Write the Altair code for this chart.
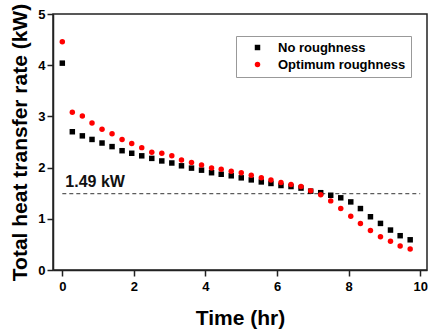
import altair as alt
import pandas as pd

time_hr = [0, 0.28, 0.56, 0.83, 1.11, 1.39, 1.67, 1.94, 2.22, 2.5, 2.78, 3.06,
           3.33, 3.61, 3.89, 4.17, 4.44, 4.72, 5.0, 5.28, 5.56, 5.83, 6.11, 6.39,
           6.67, 6.94, 7.22, 7.5, 7.78, 8.06, 8.33, 8.61, 8.89, 9.17, 9.44, 9.72]
no_rough = [4.04, 2.70, 2.62, 2.55, 2.48, 2.41, 2.33, 2.28, 2.23, 2.18, 2.13, 2.09,
            2.035, 1.99, 1.95, 1.90, 1.87, 1.84, 1.80, 1.76, 1.72, 1.69, 1.65, 1.63,
            1.60, 1.54, 1.51, 1.46, 1.41, 1.33, 1.20, 1.04, 0.91, 0.78, 0.67, 0.59]
opt_rough = [4.46, 3.08, 3.01, 2.87, 2.75, 2.66, 2.55, 2.47, 2.39, 2.30, 2.28, 2.23,
             2.15, 2.10, 2.05, 1.99, 1.97, 1.93, 1.90, 1.85, 1.80, 1.76, 1.71, 1.67,
             1.63, 1.55, 1.47, 1.35, 1.20, 1.05, 0.91, 0.77, 0.65, 0.56, 0.47, 0.41]
series_names = ["No roughness", "Optimum roughness"]
threshold = [1.49]
threshold_label = ["1.49 kW"]
x_ticks = [0, 1, 2, 3, 4, 5, 6, 7, 8, 9, 10]
y_ticks = [0, 0.5, 1, 1.5, 2, 2.5, 3, 3.5, 4, 4.5, 5]

rows = []
for t, a, b in zip(time_hr, no_rough, opt_rough):
    rows.append({"t": t, "q": a, "s": series_names[0]})
    rows.append({"t": t, "q": b, "s": series_names[1]})
df = pd.DataFrame(rows)

FONT = "Liberation Sans"

xscale = alt.Scale(domain=[-0.26, 10.19], nice=False, zero=False)
yscale = alt.Scale(domain=[0, 5], nice=False)

xaxis = alt.Axis(values=x_ticks, title="Time (hr)",
                 labelExpr="datum.value % 2 === 0 ? datum.label : ''",
                 tickSize={"condition": {"test": "datum.value % 2 === 0", "value": 6}, "value": 3},
                 grid=False, domainColor="#222", domainWidth=1.5, tickColor="#222",
                 tickWidth=1.5, labelFont=FONT, labelFontSize=13, labelFontWeight="bold",
                 labelColor="black", labelPadding=4, titleFont=FONT, titleFontSize=21,
                 titleFontWeight="bold", titleColor="black", titlePadding=14)
yaxis = alt.Axis(values=y_ticks, title="Total heat transfer rate (kW)",
                 labelExpr="datum.value % 1 === 0 ? datum.label : ''",
                 tickSize={"condition": {"test": "datum.value % 1 === 0", "value": 6}, "value": 3},
                 grid=False, domainColor="#222", domainWidth=1.5, tickColor="#222",
                 tickWidth=1.5, labelFont=FONT, labelFontSize=13, labelFontWeight="bold",
                 labelColor="black", labelPadding=2, titleFont=FONT, titleFontSize=21,
                 titleFontWeight="bold", titleColor="black", titlePadding=7)

points = alt.Chart(df).mark_point(filled=True, size=30, opacity=1).encode(
    x=alt.X("t:Q", scale=xscale, axis=xaxis),
    y=alt.Y("q:Q", scale=yscale, axis=yaxis),
    color=alt.Color("s:N", scale=alt.Scale(domain=series_names, range=["black", "red"]),
                    legend=alt.Legend(title=None, orient="none", legendX=183, legendY=22,
                                      strokeColor="#999", padding=5, labelFont=FONT,
                                      labelFontSize=13, labelFontWeight="bold",
                                      labelColor="black", symbolSize=30,
                                      symbolOffset=10, labelOffset=14, rowPadding=3)),
    shape=alt.Shape("s:N", scale=alt.Scale(domain=series_names, range=["square", "circle"]),
                    legend=None),
)

thr_df = pd.DataFrame({"y": threshold, "x0": [x_ticks[0]], "x1": [x_ticks[-1]],
                       "label": threshold_label})
rule = alt.Chart(thr_df).mark_rule(color="#333", strokeDash=[4, 3], strokeWidth=1).encode(
    x=alt.X("x0:Q", scale=xscale), x2="x1:Q", y=alt.Y("y:Q", scale=yscale))
label = alt.Chart(thr_df).mark_text(align="left", baseline="middle", dx=3, dy=-12,
                                    font=FONT, fontSize=16, fontWeight="bold",
                                    color="#111").encode(
    x=alt.X("x0:Q", scale=xscale), y=alt.Y("y:Q", scale=yscale), text="label:N")

chart = alt.layer(rule, points, label).properties(
    width=374, height=256,
    autosize=alt.AutoSizeParams(type="none"),
    padding={"left": 53, "top": 14, "right": 1, "bottom": 61},
).configure_view(stroke="#222", strokeWidth=1.5)

chart.save("out.html", embed_options={"renderer": "svg", "actions": False})
